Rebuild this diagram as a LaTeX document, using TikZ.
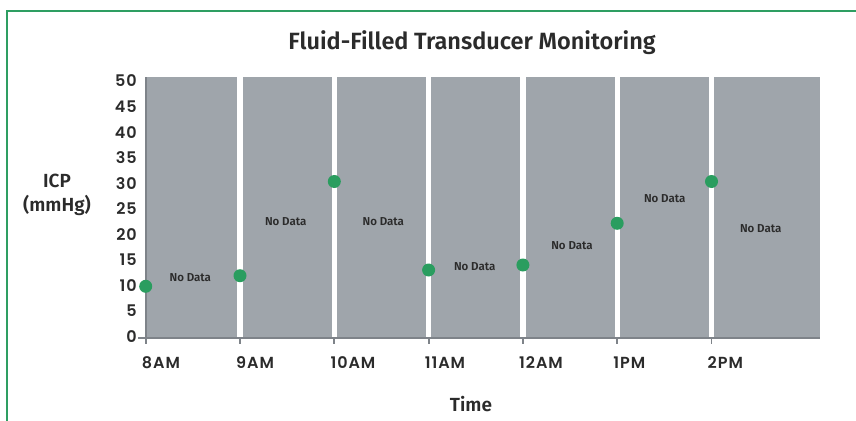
\documentclass[tikz,border=0pt]{standalone}
\usepackage{fontspec}
\setmainfont{Fira Sans}[BoldFont={* SemiBold}]
\newfontfamily\tickfont{Poppins}[BoldFont={* SemiBold}, LetterSpace=6]
\usetikzlibrary{positioning}
\definecolor{framegreen}{HTML}{2E9E62}
\definecolor{dotgreen}{HTML}{2A9D5F}
\definecolor{bandgray}{HTML}{9FA5AB}
\definecolor{axisgray}{HTML}{7E8389}
\definecolor{inkgray}{HTML}{2B2B2B}
\tikzstyle{reading} = [circle, fill=dotgreen, inner sep=0pt, minimum size=13pt]
\tikzstyle{nodata} = [text=inkgray, inner sep=0pt, font=\fontsize{11.5}{13}\selectfont\bfseries]
\tikzstyle{ticklabel} = [text=inkgray, inner sep=0pt, font=\tickfont\fontsize{16}{18}\selectfont\bfseries]
\tikzstyle{axislabel} = [text=inkgray, inner sep=0pt, align=center, font=\fontsize{19}{24}\selectfont\bfseries]
\tikzstyle{axisline} = [axisgray, line width=1.8pt]

\begin{document}
\begin{tikzpicture}[x=1pt, y=-1pt]
	\useasboundingbox (0,0) rectangle (856,420);
	% green frame, open to the right and bottom
	\draw[framegreen, line width=2.6pt] (7,425) -- (7,11) -- (861,11);
	\node[axislabel, font=\fontsize{23.5}{26}\selectfont\bfseries] (title) at (472,43) {Fluid-Filled Transducer Monitoring};
	% plot background and hour separators
	\fill[bandgray] (145.7,77) rectangle (819.7,337.7);
	\foreach \x in {240,334.3,428.6,522.9,617.2,711.5}
		\fill[white] (\x-2.6,77) rectangle (\x+2.6,337.7);
	% axes
	\draw[axisline] (145.7,77) -- (145.7,344);
	\draw[axisline] (138,337.7) -- (819.7,337.7);
	\foreach \x in {240,334.3,428.6,522.9,617.2,711.5}
		\draw[axisline] (\x,337.7) -- (\x,344);
	% y labels
	\foreach \v in {0,5,...,50}
		\node[ticklabel, anchor=east] (y\v) at (137,336.7-5.114*\v) {\v};
	% x labels
	\foreach \x/\t [count=\i] in {145.7/8AM,240/9AM,334.3/10AM,428.6/11AM,522.9/12AM,617.2/1PM,711.5/2PM}
		\node[ticklabel, anchor=west] (t\i) at (\x-4,362.7) {\t};
	\node[axislabel] (icp) at (57,195) {ICP\\(mmHg)};
	\node[axislabel] (time) at (471,404) {Time};
	% readings
	\node[reading] (r1) at (145.7,286.3) {};
	\node[reading] (r2) at (240,275.7) {};
	\node[reading] (r3) at (334.3,181.5) {};
	\node[reading] (r4) at (428.6,270) {};
	\node[reading] (r5) at (522.9,265) {};
	\node[reading] (r6) at (617.2,223.3) {};
	\node[reading] (r7) at (711.5,181.5) {};
	% gaps
	\node[nodata] (gap1) at (190.3,277.7) {No Data};
	\node[nodata] (gap2) at (285.7,221.7) {No Data};
	\node[nodata] (gap3) at (383.3,221.7) {No Data};
	\node[nodata] (gap4) at (474.7,266.7) {No Data};
	\node[nodata] (gap5) at (572,245.3) {No Data};
	\node[nodata] (gap6) at (664.7,199) {No Data};
	\node[nodata] (gap7) at (760.7,228.7) {No Data};
\end{tikzpicture}
\end{document}
